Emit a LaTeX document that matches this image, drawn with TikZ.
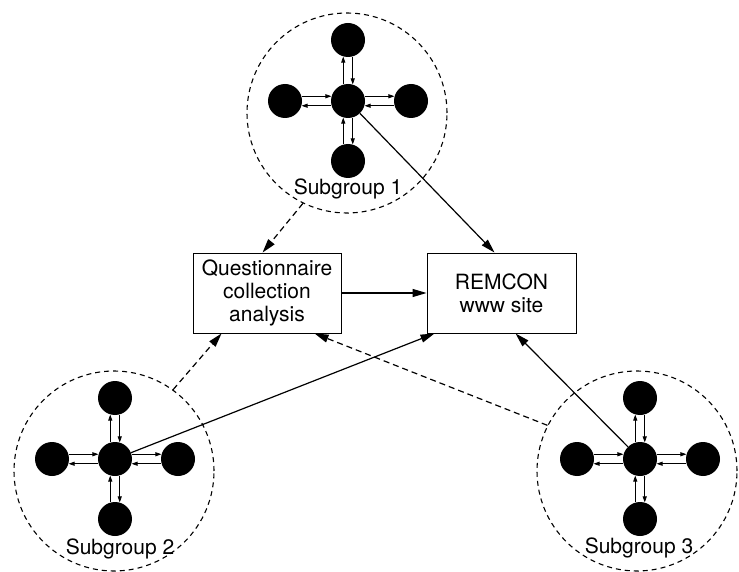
\documentclass[tikz,border=0pt]{standalone}
\usepackage{fontspec}
\setmainfont{TeX Gyre Heros}
\usetikzlibrary{arrows.meta,calc}
\tikzset{
  dot/.style={circle,fill=black,inner sep=0pt,minimum size=34pt},
  small/.style={line width=0.8pt,-{Triangle[length=6pt,width=4pt]}},
  mainarrow/.style={line width=1.2pt,-{Triangle[length=14pt,width=8pt]}},
  dasharrow/.style={line width=1.2pt,dash pattern=on 6pt off 4pt,-{Triangle[length=14pt,width=8pt]}},
  group/.style={circle,draw,line width=1.1pt,dash pattern=on 5pt off 4pt,minimum size=200pt,inner sep=0pt},
  box/.style={draw,line width=0.9pt,minimum width=148pt,minimum height=80pt,align=center,inner sep=0pt,
    font=\fontsize{21}{23.3}\selectfont},
  glabel/.style={anchor=base,font=\fontsize{21}{24}\selectfont,inner sep=1pt}
}
\newcommand{\groupstar}[2]{%
  \node[dot] (#1c) at (#2) {};
  \node[dot] (#1n) at ($(#2)+(0,-61)$) {};
  \node[dot] (#1s) at ($(#2)+(0,60)$) {};
  \node[dot] (#1w) at ($(#2)+(-63,0)$) {};
  \node[dot] (#1e) at ($(#2)+(63,0)$) {};
  \draw[small] (#1w.16) -- (#1c.164);
  \draw[small] (#1c.196) -- (#1w.344);
  \draw[small] (#1c.16) -- (#1e.164);
  \draw[small] (#1e.196) -- (#1c.344);
  \draw[small] (#1c.106) -- (#1n.254);
  \draw[small] (#1n.286) -- (#1c.74);
  \draw[small] (#1s.106) -- (#1c.254);
  \draw[small] (#1c.286) -- (#1s.74);
}
\begin{document}
\begin{tikzpicture}[x=1pt,y=-1pt]
\useasboundingbox (0,0) rectangle (739,572);
% groups
\node[group] (sg1) at (347,113) {};
\node[group] (sg2) at (114,471) {};
\node[group] (sg3) at (637,471) {};
\groupstar{a}{348,101}
\groupstar{b}{115,459}
\groupstar{c}{640,459}
\node[glabel] (l1) at (348,195) {Subgroup 1};
\node[glabel] (l2) at (120,554) {Subgroup 2};
\node[glabel] (l3) at (639,553) {Subgroup 3};
% boxes
\node[box] (q) at (267,293) {Questionnaire\\collection\\analysis};
\node[box,minimum width=149pt] (rem) at (501.5,293) {REMCON\\www site};
% end points
\coordinate (remtop) at ($(rem.north west)+(68,0)$);
\coordinate (rembl) at ($(rem.south west)+(8,0)$);
\coordinate (rembot) at ($(rem.south west)+(89,0)$);
\coordinate (qtop) at ($(q.north west)+(70,0)$);
\coordinate (qbl) at ($(q.south west)+(29,0)$);
\coordinate (qbr) at ($(q.south west)+(122,0)$);
% connectors
\draw[mainarrow] (q.east) -- (rem.west);
\draw[mainarrow] (ac) -- (remtop);
\draw[mainarrow] (bc) -- (rembl);
\draw[mainarrow] (cc) -- (rembot);
\draw[dasharrow] (sg1.244) -- (qtop);
\draw[dasharrow] (sg2.54) -- (qbl);
\draw[dasharrow] (sg3.153) -- (qbr);
\end{tikzpicture}
\end{document}
